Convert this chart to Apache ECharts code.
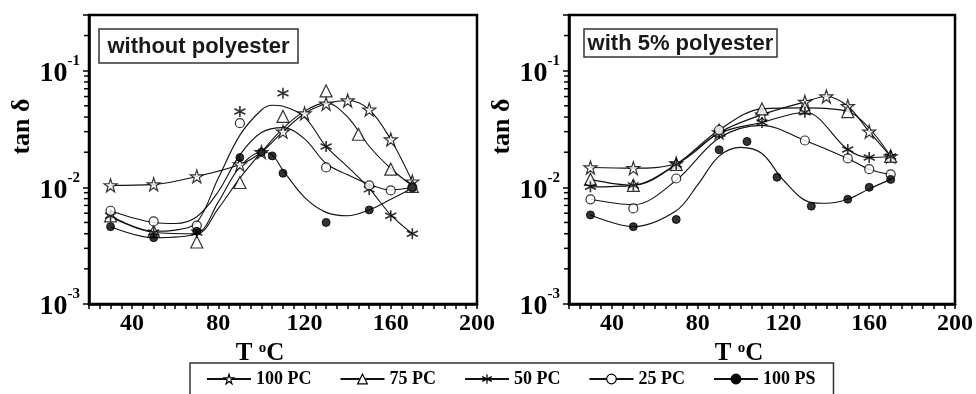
<!DOCTYPE html>
<html>
<head>
<meta charset="utf-8">
<script src="https://cdn.jsdelivr.net/npm/echarts@6/dist/echarts.min.js"></script>
<style>
  html, body { margin: 0; padding: 0; background: #fff; }
  #chart { width: 976px; height: 394px; }
</style>
</head>
<body>
<div id="chart"></div>
<script>
// ---- Data: temperature T (°C) and loss factor tan δ ----
const seriesNames = ['100 PC', '75 PC', '50 PC', '25 PC', '100 PS'];
const panelTitles = ['without polyester', 'with 5% polyester'];
const xTickLabels = [40, 80, 120, 160, 200];
const yMinorTicks = [0.002, 0.003, 0.004, 0.005, 0.006, 0.007, 0.008, 0.009,
                     0.02, 0.03, 0.04, 0.05, 0.06, 0.07, 0.08, 0.09, 0.2];

// Blends without polyester: measured points
const tempA100PC = [30, 50, 70, 90, 100, 110, 120, 130, 140, 150, 160, 170];
const tanA100PC  = [0.0104, 0.0106, 0.0124, 0.0157, 0.0200, 0.0300, 0.0430, 0.0520, 0.0555, 0.0464, 0.0257, 0.0112];
const tempA75PC  = [30, 50, 70, 90, 110, 130, 145, 160, 170];
const tanA75PC   = [0.0057, 0.0042, 0.0034, 0.0110, 0.0405, 0.0670, 0.0285, 0.0143, 0.0102];
const tempA50PC  = [30, 50, 70, 90, 110, 130, 150, 160, 170];
const tanA50PC   = [0.0057, 0.0041, 0.0041, 0.0446, 0.0640, 0.0224, 0.0096, 0.0057, 0.0040];
const tempA25PC  = [30, 50, 70, 90, 130, 150, 160, 170];
const tanA25PC   = [0.0063, 0.0051, 0.0047, 0.0355, 0.0148, 0.0104, 0.0094, 0.0100];
const tempA100PS = [30, 50, 70, 90, 100, 105, 110, 130, 150, 170];
const tanA100PS  = [0.0046, 0.0037, 0.0042, 0.0180, 0.0200, 0.0186, 0.0132, 0.0050, 0.0064, 0.0100];

// Blends without polyester: fitted curves
const fitTempA75PC  = [30, 50, 70, 80, 90, 100, 110, 120, 130, 140, 150, 160, 170];
const fitTanA75PC   = [0.0056, 0.0041, 0.0040, 0.0066, 0.0120, 0.0200, 0.0320, 0.0450, 0.0530, 0.0400, 0.0225, 0.0145, 0.0103];
const fitTempA50PC  = [30, 50, 60, 70, 80, 90, 100, 105, 110, 120, 130, 140, 150, 160, 170];
const fitTanA50PC   = [0.0057, 0.0042, 0.0043, 0.0050, 0.0120, 0.0280, 0.0460, 0.0505, 0.0495, 0.0400, 0.0224, 0.0150, 0.0098, 0.0058, 0.0040];
const fitTempA25PC  = [30, 50, 60, 70, 80, 90, 100, 110, 120, 130, 140, 150, 160, 170];
const fitTanA25PC   = [0.0063, 0.0050, 0.0049, 0.0056, 0.0092, 0.0190, 0.0295, 0.0325, 0.0260, 0.0160, 0.0128, 0.0106, 0.0095, 0.0100];
const fitTempA100PS = [30, 50, 70, 80, 90, 100, 105, 110, 120, 130, 140, 150, 160, 170];
const fitTanA100PS  = [0.0046, 0.0037, 0.0040, 0.0075, 0.0150, 0.0200, 0.0190, 0.0140, 0.0082, 0.0061, 0.0057, 0.0064, 0.0079, 0.0098];

// Blends with 5% polyester: measured points
const tempB100PC = [30, 50, 70, 90, 110, 130, 140, 150, 160, 170];
const tanB100PC  = [0.0148, 0.0146, 0.0160, 0.0295, 0.0420, 0.0540, 0.0600, 0.0495, 0.0300, 0.0184];
const tempB75PC  = [30, 50, 70, 90, 110, 130, 150, 170];
const tanB75PC   = [0.0117, 0.0104, 0.0157, 0.0310, 0.0470, 0.0480, 0.0446, 0.0184];
const tempB50PC  = [30, 50, 70, 90, 110, 130, 150, 160, 170];
const tanB50PC   = [0.0101, 0.0104, 0.0157, 0.0290, 0.0360, 0.0440, 0.0211, 0.0180, 0.0184];
const tempB25PC  = [30, 50, 70, 90, 130, 150, 160, 170];
const tanB25PC   = [0.0079, 0.0066, 0.0119, 0.0310, 0.0252, 0.0177, 0.0143, 0.0129];
const tempB100PS = [30, 50, 70, 90, 103, 117, 133, 150, 160, 170];
const tanB100PS  = [0.0058, 0.0046, 0.0053, 0.0210, 0.0247, 0.0122, 0.0069, 0.0079, 0.0100, 0.0117];

// Blends with 5% polyester: fitted curves
const fitTempB25PC  = [30, 50, 70, 90, 110, 130, 150, 160, 170];
const fitTanB25PC   = [0.0079, 0.0071, 0.0115, 0.0265, 0.0340, 0.0252, 0.0177, 0.0143, 0.0129];
const fitTempB100PS = [30, 50, 70, 80, 90, 100, 110, 120, 133, 140, 150, 160, 170];
const fitTanB100PS  = [0.0058, 0.0046, 0.0063, 0.0105, 0.0185, 0.0220, 0.0195, 0.0115, 0.0074, 0.0073, 0.0079, 0.0097, 0.0117];

const panels = [
  {
    '100 PC': { mark: [tempA100PC, tanA100PC], fit: [tempA100PC, tanA100PC] },
    '75 PC':  { mark: [tempA75PC, tanA75PC],   fit: [fitTempA75PC, fitTanA75PC] },
    '50 PC':  { mark: [tempA50PC, tanA50PC],   fit: [fitTempA50PC, fitTanA50PC] },
    '25 PC':  { mark: [tempA25PC, tanA25PC],   fit: [fitTempA25PC, fitTanA25PC] },
    '100 PS': { mark: [tempA100PS, tanA100PS], fit: [fitTempA100PS, fitTanA100PS] }
  },
  {
    '100 PC': { mark: [tempB100PC, tanB100PC], fit: [tempB100PC, tanB100PC] },
    '75 PC':  { mark: [tempB75PC, tanB75PC],   fit: [tempB75PC, tanB75PC] },
    '50 PC':  { mark: [tempB50PC, tanB50PC],   fit: [tempB50PC, tanB50PC] },
    '25 PC':  { mark: [tempB25PC, tanB25PC],   fit: [fitTempB25PC, fitTanB25PC] },
    '100 PS': { mark: [tempB100PS, tanB100PS], fit: [fitTempB100PS, fitTanB100PS] }
  }
];

// ---- Styling ----
const SERIF = '"Liberation Serif", "Times New Roman", serif';
const SANS = '"Liberation Sans", Arial, sans-serif';
const STAR = 'path://M50,2L61,36L97,36L68,57L79,92L50,70L21,92L32,57L3,36L39,36Z';
const ASTERISK = 'path://M50,0L50,100M7,25L93,75M7,75L93,25';
const markerStyle = {
  '100 PC': { symbol: STAR,       size: 13, fill: '#fff',        border: 1.2 },
  '75 PC':  { symbol: 'triangle', size: 12, fill: '#fff',        border: 1.2 },
  '50 PC':  { symbol: ASTERISK,   size: 11, fill: 'transparent', border: 1.6 },
  '25 PC':  { symbol: 'circle',   size: 9,  fill: '#fff',        border: 1.2 },
  '100 PS': { symbol: 'circle',   size: 8,  fill: '#000',        border: 1 }
};
const gridBoxes = [
  { left: 89,  top: 15, width: 388, height: 289 },
  { left: 569, top: 15, width: 386, height: 289 }
];
const titleBoxes = [
  { x: 99,  y: 29, w: 199, h: 34 },
  { x: 584, y: 29, w: 193, h: 28 }
];

const zip = (t, v) => t.map((x, i) => [x, v[i]]);

const series = [];
panels.forEach((panel, p) => {
  seriesNames.forEach(name => {
    const d = panel[name];
    const m = markerStyle[name];
    const itemStyle = { color: m.fill, borderColor: '#000', borderWidth: m.border };
    series.push({
      type: 'line', name, xAxisIndex: p, yAxisIndex: p,
      data: zip(d.fit[0], d.fit[1]),
      smooth: 0.35, showSymbol: false, symbol: m.symbol, symbolSize: m.size,
      itemStyle, lineStyle: { color: '#111', width: 1.1 }, silent: true, z: 2
    });
    series.push({
      type: 'scatter', name, xAxisIndex: p, yAxisIndex: p,
      data: zip(d.mark[0], d.mark[1]),
      symbol: m.symbol, symbolSize: m.size, itemStyle, silent: true, z: 3
    });
  });
  // logarithmic minor ticks on the tan δ axis
  series.push({
    type: 'custom', name: 'yMinor' + p, xAxisIndex: p, yAxisIndex: p,
    data: yMinorTicks.map(v => [20, v]), silent: true, z: 4,
    renderItem: (params, api) => {
      const pt = api.coord([api.value(0), api.value(1)]);
      return { type: 'line', shape: { x1: pt[0] - 5, y1: pt[1], x2: pt[0], y2: pt[1] },
               style: { stroke: '#000', lineWidth: 1.5 } };
    }
  });
});

const xAxes = gridBoxes.map((g, p) => ({
  type: 'value', gridIndex: p, min: 20, max: 200, interval: 20,
  axisLine: { show: true, lineStyle: { color: '#000', width: 2.5 } },
  axisTick: { show: true, length: 5, lineStyle: { color: '#000', width: 1.5 } },
  minorTick: { show: true, splitNumber: 4, length: 5, lineStyle: { color: '#000', width: 1.5 } },
  splitLine: { show: false },
  axisLabel: {
    formatter: v => xTickLabels.includes(v) ? String(v) : '',
    fontFamily: SERIF, fontWeight: 'bold', fontSize: 24, color: '#000', margin: 8
  },
  name: 'T {s|o}C', nameLocation: 'middle', nameGap: 31,
  nameTextStyle: {
    fontFamily: SERIF, fontWeight: 'bold', fontSize: 25, color: '#000', padding: [0, 46, 0, 0],
    rich: { s: { fontFamily: SERIF, fontWeight: 'bold', fontSize: 15, verticalAlign: 'top', color: '#000' } }
  }
}));

const yAxes = gridBoxes.map((g, p) => ({
  type: 'log', logBase: 10, gridIndex: p, min: 0.001, max: 0.3,
  axisLine: { show: true, lineStyle: { color: '#000', width: 2.5 } },
  axisTick: { show: true, length: 6, lineStyle: { color: '#000', width: 1.5 } },
  splitLine: { show: false },
  axisLabel: {
    formatter: v => {
      const e = Math.log10(v);
      const r = Math.round(e);
      return Math.abs(e - r) < 1e-6 ? '{b|10}{e|' + r + '}' : '';
    },
    fontFamily: SERIF, fontWeight: 'bold', fontSize: 27, color: '#000', margin: 9,
    rich: {
      b: { fontFamily: SERIF, fontWeight: 'bold', fontSize: 28, color: '#000', padding: [6, 0, 0, 0] },
      e: { fontFamily: SERIF, fontWeight: 'bold', fontSize: 15, verticalAlign: 'top', color: '#000' }
    }
  },
  name: 'tan δ', nameLocation: 'middle', nameGap: 52,
  nameTextStyle: { fontFamily: SERIF, fontWeight: 'bold', fontSize: 26, color: '#000', padding: [0, 0, 0, 66] }
}));

const graphic = titleBoxes.map((b, i) => ({
  type: 'group', x: b.x, y: b.y, z: 10,
  children: [
    { type: 'rect', shape: { x: 0, y: 0, width: b.w, height: b.h },
      style: { fill: '#fff', stroke: '#333', lineWidth: 1.5 } },
    { type: 'text', style: { x: b.w / 2, y: b.h / 2 + 1, text: panelTitles[i], align: 'center', verticalAlign: 'middle',
      font: 'bold 22px ' + SANS, fill: '#1a1a1a' } }
  ]
}));

const chart = echarts.init(document.getElementById('chart'), null, { renderer: 'canvas' });
chart.setOption({
  animation: false,
  backgroundColor: '#fff',
  grid: gridBoxes.map(g => Object.assign({
    show: true, borderColor: '#000', borderWidth: 2.5, backgroundColor: 'transparent',
    containLabel: false, outerBoundsMode: 'none'
  }, g)),
  xAxis: xAxes,
  yAxis: yAxes,
  legend: {
    data: seriesNames.map(name => ({
      name,
      itemStyle: { color: markerStyle[name].fill, borderColor: '#000', borderWidth: 1.2 }
    })),
    left: 190, top: 363, orient: 'horizontal',
    itemWidth: 44, itemHeight: 12, itemGap: 28, selectedMode: false,
    padding: [7, 18, 30, 16], borderColor: '#333', borderWidth: 1.5, backgroundColor: '#fff',
    textStyle: { fontFamily: SERIF, fontWeight: 'bold', fontSize: 18, color: '#000' }
  },
  graphic,
  series
});
</script>
</body>
</html>
